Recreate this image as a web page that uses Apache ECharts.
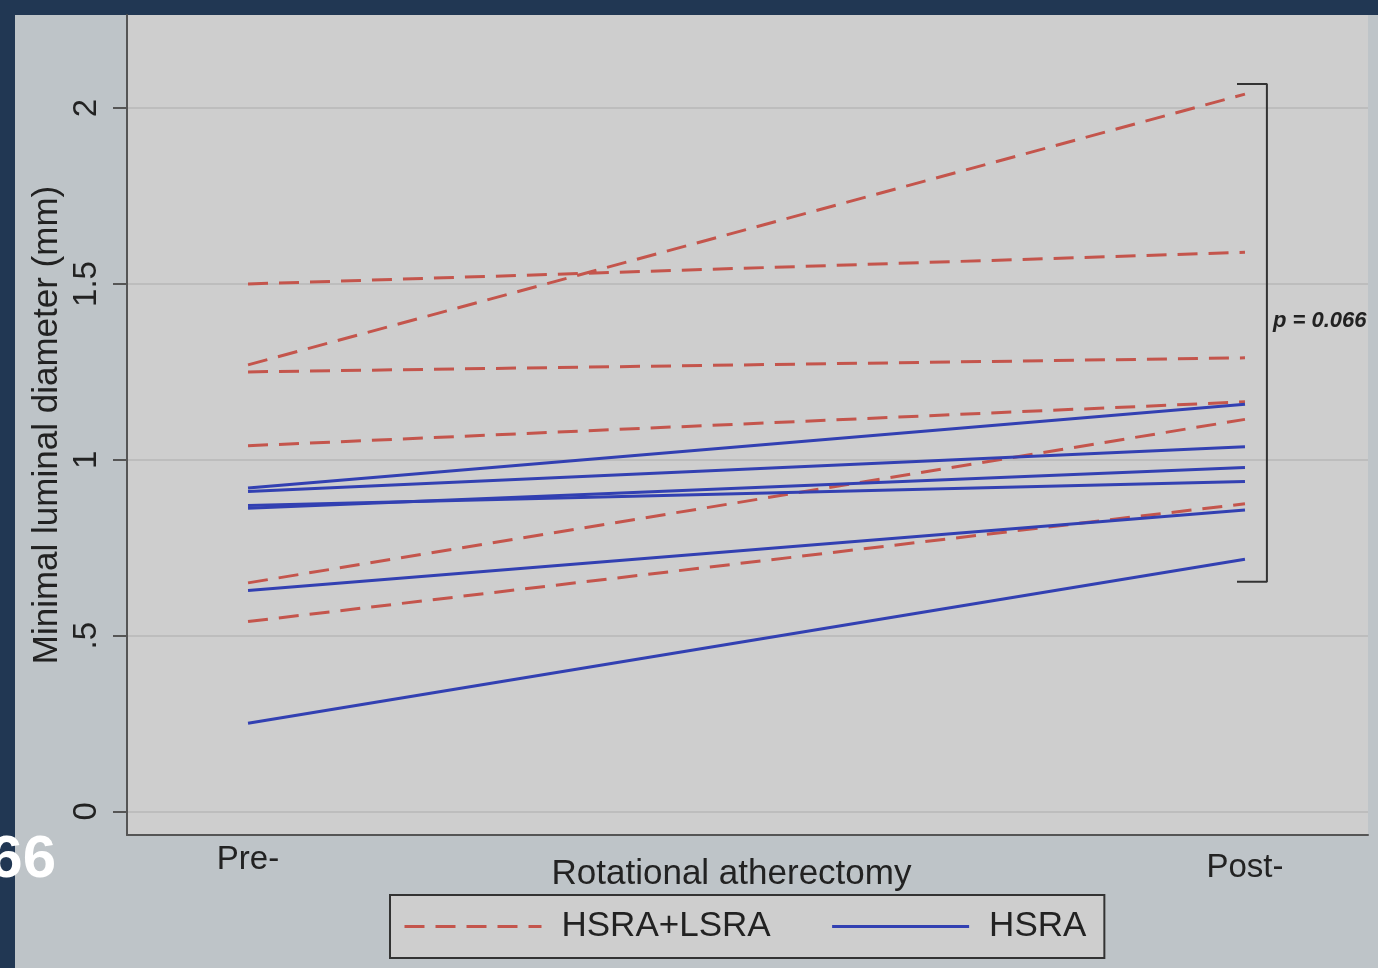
<!DOCTYPE html>
<html><head><meta charset="utf-8">
<script src="https://cdn.jsdelivr.net/npm/echarts@6/dist/echarts.min.js"></script>
<style>html,body{margin:0;padding:0;background:#213753}#c{width:1378px;height:968px}</style>
</head><body><div id="c"></div>
<script>
const xCategories = ['Pre-', 'Post-'];
const xPositions = [0, 1];
const yTickValues = [0, 0.5, 1, 1.5, 2];
const yTickLabels = ['0', '.5', '1', '1.5', '2'];
const hsraLsraPre  = [1.27, 1.50, 1.25, 1.04, 0.65, 0.54];
const hsraLsraPost = [2.04, 1.59, 1.29, 1.165, 1.115, 0.875];
const hsraPre  = [0.92, 0.91, 0.862, 0.87, 0.628, 0.251];
const hsraPost = [1.158, 1.037, 0.978, 0.938, 0.857, 0.717];
const bracketX = [0.992, 1.022, 1.022, 0.992];
const bracketY = [2.069, 2.069, 0.653, 0.653];
const pLabel = 'p = 0.066';

const RED = '#c4554c', BLUE = '#3240b2', TXT = '#222', FONT = 'Liberation Sans, Arial, sans-serif';
const series = [];
hsraLsraPre.forEach((v, i) => series.push({
  name: 'HSRA+LSRA', type: 'line', symbol: 'none', silent: true,
  lineStyle: { color: RED, width: 3, type: [20, 11] }, itemStyle: { color: RED },
  data: [[xPositions[0], v], [xPositions[1], hsraLsraPost[i]]]
}));
hsraPre.forEach((v, i) => series.push({
  name: 'HSRA', type: 'line', symbol: 'none', silent: true,
  lineStyle: { color: BLUE, width: 3 }, itemStyle: { color: BLUE },
  data: [[xPositions[0], v], [xPositions[1], hsraPost[i]]]
}));
series.push({
  name: 'bracket', type: 'line', symbol: 'none', silent: true,
  lineStyle: { color: '#333', width: 2 },
  data: bracketX.map((x, i) => [x, bracketY[i]])
});

const chart = echarts.init(document.getElementById('c'), null, { renderer: 'canvas' });
chart.setOption({
  animation: false,
  backgroundColor: '#213753',
  textStyle: { fontFamily: FONT },
  graphic: [
    { type: 'rect', z: -10, shape: { x: 15, y: 15, width: 1363, height: 953 }, style: { fill: '#bec4c8' } },
    { type: 'text', z: 100, x: 1273, y: 321, style: { text: pLabel, font: 'italic bold 22px ' + FONT, fill: TXT, verticalAlign: 'middle' } },
    { type: 'text', z: 100, x: 56, y: 860, style: { text: '66', font: 'bold 60px ' + FONT, fill: '#ffffff', align: 'right', verticalAlign: 'middle' } }
  ],
  grid: { left: 127, top: 15, width: 1241, height: 820, show: true, backgroundColor: '#cecece', borderWidth: 0 },
  xAxis: {
    type: 'value', min: -0.1214, max: 1.1234,
    name: 'Rotational atherectomy', nameLocation: 'middle', nameGap: 22, nameMoveOverlap: false,
    nameTextStyle: { fontSize: 35, color: TXT, fontFamily: FONT, padding: [0, 32, 0, 0] },
    axisLine: { show: true, onZero: false, lineStyle: { color: '#555', width: 2 } },
    axisTick: { show: false },
    splitLine: { show: false },
    axisLabel: {
      customValues: xPositions, fontSize: 33, color: TXT, margin: 8,
      formatter: (v) => { const i = xPositions.indexOf(v); return i === 0 ? '{a|' + xCategories[i] + '}' : '{b|' + xCategories[i] + '}'; },
      rich: { a: { fontSize: 33, color: TXT, fontFamily: FONT }, b: { fontSize: 33, color: TXT, fontFamily: FONT, padding: [8, 0, 0, 0] } }
    }
  },
  yAxis: {
    type: 'value', min: -0.067, max: 2.265,
    name: 'Minimal luminal diameter (mm)', nameLocation: 'middle', nameGap: 62, nameMoveOverlap: false,
    nameTextStyle: { fontSize: 35, color: TXT, fontFamily: FONT },
    axisLine: { show: true, onZero: false, lineStyle: { color: '#555', width: 2 } },
    axisTick: { show: true, customValues: yTickValues, length: 14, lineStyle: { color: '#555', width: 2 } },
    splitLine: { show: true, lineStyle: { color: '#bdbdbd', width: 2 } },
    axisLabel: {
      customValues: yTickValues, rotate: 90, fontSize: 33, color: TXT, margin: 24,
      formatter: (v) => { const i = yTickValues.indexOf(v); return i >= 0 ? yTickLabels[i] : ''; }
    }
  },
  legend: {
    data: ['HSRA+LSRA', 'HSRA'],
    left: 390, top: 895, orient: 'horizontal',
    padding: [14, 18, 14, 13], itemGap: 60, itemWidth: 137, itemHeight: 14,
    itemStyle: { opacity: 0 },
    lineStyle: { width: 3 },
    backgroundColor: '#cecece', borderColor: '#333', borderWidth: 2, borderRadius: 0,
    textStyle: { fontSize: 35, color: TXT, fontFamily: FONT, padding: [0, 0, 0, 15] },
    selectedMode: false
  },
  series
});
</script></body></html>
